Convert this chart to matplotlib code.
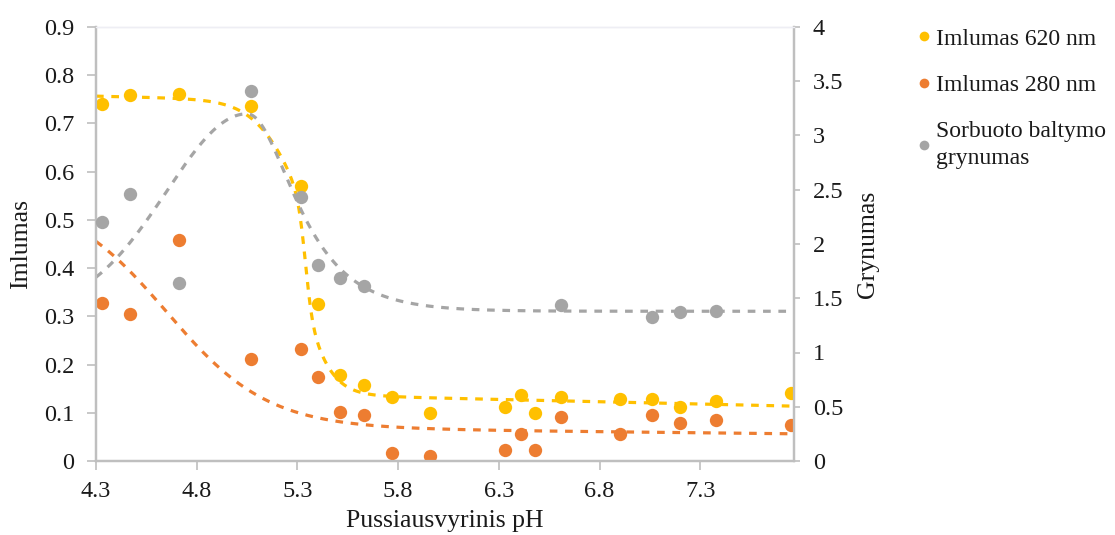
import numpy as np
import matplotlib
matplotlib.use("Agg")
import matplotlib.pyplot as plt
from matplotlib.lines import Line2D

plt.rcParams["font.family"] = ["Liberation Serif", "DejaVu Serif"]

# ---- measured data -------------------------------------------------------
ph = [4.33, 4.47, 4.71, 5.07, 5.32, 5.40, 5.51, 5.63, 5.77, 5.96,
      6.33, 6.41, 6.48, 6.61, 6.90, 7.06, 7.20, 7.38, 7.75]
abs_620 = [0.741, 0.760, 0.762, 0.736, 0.570, 0.325, 0.178, 0.157, 0.133, 0.099,
           0.113, 0.137, 0.099, 0.133, 0.128, 0.128, 0.113, 0.124, 0.142]
abs_280 = [0.328, 0.304, 0.458, 0.211, 0.232, 0.175, 0.102, 0.095, 0.016, 0.011,
           0.023, 0.057, 0.023, 0.091, 0.056, 0.095, 0.079, 0.086, 0.075]
purity_ph = [4.33, 4.47, 4.71, 5.07, 5.32, 5.40, 5.51, 5.63, 6.61, 7.06, 7.20, 7.38]
purity = [2.20, 2.46, 1.64, 3.41, 2.43, 1.81, 1.69, 1.61, 1.44, 1.33, 1.37, 1.38]

labels = ["Imlumas 620 nm", "Imlumas 280 nm", "Sorbuoto baltymo\ngrynumas"]
colors = ["#FFC000", "#ED7D31", "#A5A5A5"]

x_ticks = [4.3, 4.8, 5.3, 5.8, 6.3, 6.8, 7.3]
left_ticks = [0, 0.1, 0.2, 0.3, 0.4, 0.5, 0.6, 0.7, 0.8, 0.9]
right_ticks = [0, 0.5, 1, 1.5, 2, 2.5, 3, 3.5, 4]
right_ticklabels = ["0", "0.5", "1", "1.5", "2", "2.5", "3", "3.5", "4"]

# ---- trend model parameters ---------------------------------------------
# 620 nm: sloped floor plus three falling logistic steps (amplitude, centre, scale)
t620_floor, t620_floor_slope = 0.14, -0.0095
t620_steps = [(0.20, 5.22, 0.10), (0.22, 5.34, 0.018), (0.19, 5.37, 0.065)]
# 280 nm: sloped floor plus one falling logistic step
t280_floor, t280_floor_slope = 0.072, -0.0045
t280_steps = [(0.478, 4.65, 0.25)]
# purity: baseline plus asymmetric peak (gaussian rise, sech fall)
tp_base, tp_height, tp_centre, tp_left_width, tp_right_rate = 1.38, 1.82, 5.05, 0.40, 4.8


def step_trend(x, floor, slope, steps):
    y = floor + slope * (x - 5.0)
    for amp, centre, scale in steps:
        y = y + amp / (1.0 + np.exp((x - centre) / scale))
    return y


def peak_trend(x):
    d = x - tp_centre
    left = np.exp(-d ** 2 / (2 * tp_left_width ** 2))
    right = 1.0 / np.cosh(tp_right_rate * d)
    return tp_base + tp_height * np.where(d < 0, left, right)


x_fit = np.linspace(4.3, 7.75, 700)
fit_620 = step_trend(x_fit, t620_floor, t620_floor_slope, t620_steps)
fit_280 = step_trend(x_fit, t280_floor + t280_floor_slope * (5.0 - 4.3), t280_floor_slope, t280_steps)
fit_pur = peak_trend(x_fit)

# ---- figure --------------------------------------------------------------
W, H = 1115, 535
fig = plt.figure(figsize=(W / 100, H / 100), dpi=100)
ax = fig.add_axes([96 / W, 1 - 461 / H, (794 - 96) / W, (461 - 27) / H])
ax2 = ax.twinx()

dash = dict(linestyle=(0, (2.4, 2.4)), linewidth=2.3, dash_capstyle="butt")
ms = 9.6

ax.plot(x_fit, fit_620, color=colors[0], zorder=2, **dash)
ax.plot(x_fit, fit_280, color=colors[1], zorder=2, **dash)
ax.plot(ph, abs_620, "o", color=colors[0], markersize=ms, markeredgewidth=0, zorder=3)
ax.plot(ph, abs_280, "o", color=colors[1], markersize=ms, markeredgewidth=0, zorder=3)
ax2.plot(x_fit, fit_pur, color=colors[2], zorder=2, **dash)
ax2.plot(purity_ph, purity, "o", color=colors[2], markersize=ms, markeredgewidth=0, zorder=3)

ax.set_xlim(4.3, 7.765)
ax.set_ylim(0, 0.9)
ax2.set_ylim(0, 4)

ax.set_xticks(x_ticks)
ax.set_xticklabels([f"{v:.1f}" for v in x_ticks])
ax.set_yticks(left_ticks)
ax.set_yticklabels(["0"] + [f"{v:.1f}" for v in left_ticks[1:]])
ax2.set_yticks(right_ticks)
ax2.set_yticklabels(right_ticklabels)

spine_col = "#BFBFBF"
for a in (ax, ax2):
    for s in ("left", "right", "bottom"):
        a.spines[s].set_color(spine_col)
        a.spines[s].set_linewidth(1.6)
    a.spines["top"].set_color("#EEEEF4")
    a.spines["top"].set_linewidth(1.0)

tick_fs = 17.5
text_col = "#1a1a1a"
ax.tick_params(axis="y", direction="out", length=6.5, width=1.2, color=spine_col,
               labelsize=tick_fs, pad=9, labelcolor=text_col)
ax.tick_params(axis="x", direction="out", length=6.5, width=1.2, color=spine_col,
               labelsize=tick_fs, pad=8, labelcolor=text_col)
ax2.tick_params(axis="y", direction="out", length=4.5, width=1.2, color=spine_col,
                labelsize=tick_fs, pad=9, labelcolor=text_col)

fig.text(445 / W, 1 - 521 / H, "Pussiausvyrinis pH", ha="center", va="center",
         fontsize=18.5, color=text_col)
fig.text(21 / W, 1 - 244 / H, "Imlumas", ha="center", va="center", rotation=90,
         fontsize=18.5, color=text_col)
fig.text(868 / W, 1 - 244 / H, "Grynumas", ha="center", va="center", rotation=90,
         fontsize=18.5, color=text_col)

handles = [Line2D([], [], linestyle="none", marker="o", markersize=7,
                  markeredgewidth=0, color=c) for c in colors]
leg = fig.legend(handles, labels, loc="upper left", bbox_to_anchor=(918 / W, 1 - 28 / H),
                 frameon=False, fontsize=17, handlelength=0.55, handletextpad=0.2,
                 labelspacing=1.05, borderpad=0, borderaxespad=0, labelcolor=text_col)
leg.get_texts()[2].set_linespacing(1.4)

fig.savefig("out.png", dpi=100)
